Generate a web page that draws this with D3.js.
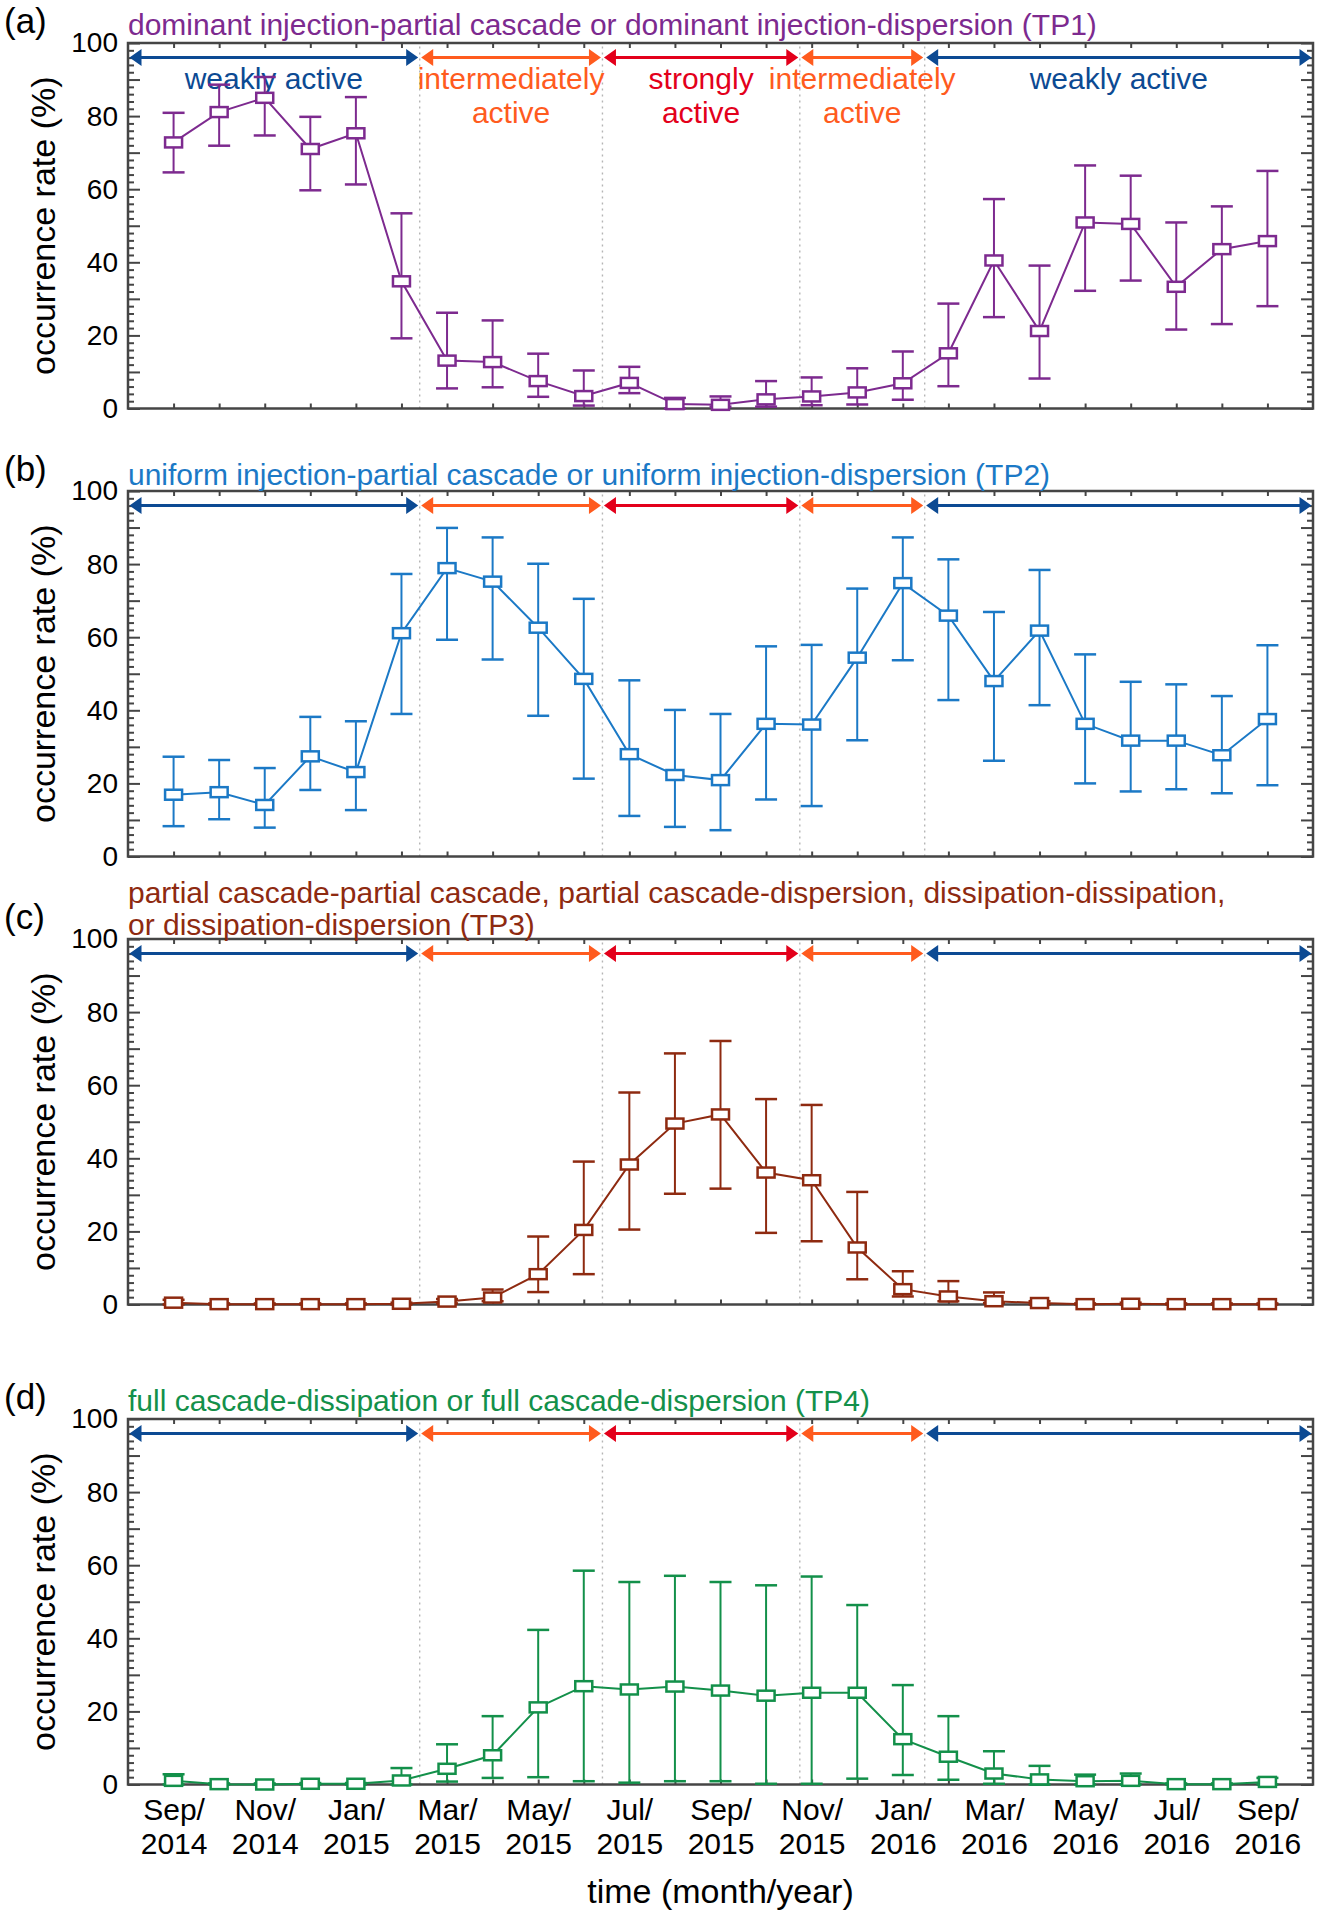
<!DOCTYPE html>
<html>
<head>
<meta charset="utf-8">
<script src="https://cdn.jsdelivr.net/npm/d3@7"></script>
<style>
    body { margin: 0; background: #fff; }
    svg { display: block; }
</style>
</head>
<body>
<script>
// month categories (x positions are the month index)
const months = ['Sep/2014', 'Oct/2014', 'Nov/2014', 'Dec/2014', 'Jan/2015', 'Feb/2015', 'Mar/2015',
    'Apr/2015', 'May/2015', 'Jun/2015', 'Jul/2015', 'Aug/2015', 'Sep/2015', 'Oct/2015', 'Nov/2015',
    'Dec/2015', 'Jan/2016', 'Feb/2016', 'Mar/2016', 'Apr/2016', 'May/2016', 'Jun/2016', 'Jul/2016',
    'Aug/2016', 'Sep/2016'];
const tickLabels = ['Sep/2014', 'Nov/2014', 'Jan/2015', 'Mar/2015', 'May/2015', 'Jul/2015', 'Sep/2015',
    'Nov/2015', 'Jan/2016', 'Mar/2016', 'May/2016', 'Jul/2016', 'Sep/2016'];
const yTicks = [0, 20, 40, 60, 80, 100];

// TP1
const tp1Rate = [72.8, 81.1, 85.0, 71.0, 75.3, 34.8, 13.1, 12.7, 7.5, 3.4, 7.0, 1.2, 1.0, 2.5, 3.3, 4.4, 6.9, 15.1, 40.5, 21.2, 50.9, 50.5, 33.3, 43.6, 45.8];
const tp1High = [80.9, 88.6, 90.7, 79.8, 85.2, 53.4, 26.2, 24.1, 15.0, 10.4, 11.4, 2.9, 3.3, 7.5, 8.5, 11.0, 15.6, 28.7, 57.3, 39.1, 66.5, 63.7, 50.9, 55.3, 65.0];
const tp1Low = [64.6, 71.9, 74.7, 59.7, 61.3, 19.2, 5.5, 5.8, 3.2, 0.8, 4.2, 0.0, 0.5, 0.5, 0.9, 1.1, 2.4, 6.1, 25.0, 8.2, 32.2, 35.0, 21.6, 23.1, 28.0];

// TP2
const tp2Rate = [16.9, 17.6, 14.1, 27.4, 23.1, 61.1, 78.9, 75.2, 62.6, 48.6, 28.0, 22.3, 20.9, 36.3, 36.1, 54.4, 74.8, 65.9, 48.0, 61.8, 36.3, 31.7, 31.7, 27.7, 37.6];
const tp2High = [27.3, 26.4, 24.2, 38.2, 37.0, 77.3, 89.9, 87.3, 80.1, 70.5, 48.2, 40.1, 39.0, 57.5, 57.9, 73.3, 87.3, 81.3, 66.9, 78.4, 55.3, 47.8, 47.1, 43.9, 57.8];
const tp2Low = [8.3, 10.2, 7.9, 18.2, 12.7, 39.0, 59.3, 53.9, 38.5, 21.3, 11.1, 8.1, 7.2, 15.6, 13.8, 31.8, 53.7, 42.8, 26.2, 41.4, 20.0, 17.8, 18.4, 17.3, 19.5];

// TP3
const tp3Rate = [0.5, 0.1, 0.1, 0.1, 0.1, 0.2, 0.8, 1.9, 8.3, 20.4, 38.3, 49.5, 52.0, 36.1, 34.0, 15.6, 4.2, 2.2, 0.9, 0.4, 0.1, 0.2, 0.1, 0.1, 0.1];
const tp3High = [1.3, 0.3, 0.3, 0.3, 0.3, 0.5, 1.5, 4.1, 18.6, 39.1, 58.0, 68.7, 72.1, 56.2, 54.6, 30.8, 9.1, 6.4, 3.3, 0.9, 0.3, 0.5, 0.3, 0.3, 0.3];
const tp3Low = [0, 0, 0, 0, 0, 0, 0.3, 0.9, 3.4, 8.3, 20.5, 30.3, 31.7, 19.6, 17.3, 6.9, 2.2, 0.9, 0.4, 0, 0, 0, 0, 0, 0];

// TP4
const tp4Rate = [1.0, 0.1, 0.0, 0.2, 0.2, 1.1, 4.3, 8.0, 21.1, 26.9, 26.0, 26.8, 25.7, 24.3, 25.1, 25.1, 12.4, 7.6, 3.0, 1.4, 0.9, 1.0, 0.1, 0.1, 0.7];
const tp4High = [2.8, 0.3, 0.3, 0.4, 0.4, 4.5, 11.0, 18.7, 42.3, 58.5, 55.4, 57.1, 55.4, 54.5, 56.9, 49.1, 27.2, 18.7, 9.1, 5.1, 2.7, 3.0, 0.3, 0.3, 1.8];
const tp4Low = [0, 0, 0, 0, 0, 0, 0.8, 1.8, 2.0, 0.9, 0.5, 0.9, 0.9, 0.2, 0.2, 1.6, 2.6, 1.3, 0.2, 0, 0, 0, 0, 0, 0];

// activity periods (edges in month-index units)
const periodEdges = [-1, 5.4, 9.41, 13.74, 16.48, 25];
const periodLabels = [['weakly active'], ['intermediately', 'active'], ['strongly', 'active'], ['intermediately', 'active'], ['weakly active']];
const periodLevels = ['weak', 'mid', 'strong', 'mid', 'weak'];

drawFigure();

function drawFigure()
{
    const width = 1322;
    const height = 1920;
    const font = "'Liberation Sans', Arial, sans-serif";

    const panelTops = [43, 491, 939, 1419];
    const panelHeight = 365.5;

    const axisColor = '#454545';
    const levelColor = { weak: '#0c4a93', mid: '#ff5b1e', strong: '#e3001b' };

    const panels = [
        { tag: '(a)', title: ['dominant injection-partial cascade or dominant injection-dispersion (TP1)'],
            color: '#7d2a8f', rate: tp1Rate, low: tp1Low, high: tp1High, labels: true },
        { tag: '(b)', title: ['uniform injection-partial cascade or uniform injection-dispersion (TP2)'],
            color: '#1b79c6', rate: tp2Rate, low: tp2Low, high: tp2High, titleGap: 6 },
        { tag: '(c)', title: ['partial cascade-partial cascade, partial cascade-dispersion, dissipation-dissipation,',
            'or dissipation-dispersion (TP3)'],
            color: '#8e2a10', rate: tp3Rate, low: tp3Low, high: tp3High, titleGap: 4 },
        { tag: '(d)', title: ['full cascade-dissipation or full cascade-dispersion (TP4)'],
            color: '#13904a', rate: tp4Rate, low: tp4Low, high: tp4High, xLabels: true }
    ];

    const svg = d3.select('body').append('svg')
        .attr('width', width)
        .attr('height', height)
        .style('font-family', font);

    svg.append('rect')
        .attr('width', width)
        .attr('height', height)
        .attr('fill', '#fff');

    // x scale over month index, one empty slot each side
    const x = d3.scaleLinear()
        .domain([-1, months.length])
        .range([128, 1313]);

    panels.forEach((p, k) => drawPanel(p, panelTops[k]));

    // x-axis title
    svg.append('text')
        .attr('x', (x.range()[0] + x.range()[1]) / 2)
        .attr('y', 1903)
        .attr('text-anchor', 'middle')
        .attr('font-size', 34)
        .attr('fill', '#000')
        .text('time (month/year)');

    function drawPanel(p, top)
    {
        const g = svg.append('g');

        const y = d3.scaleLinear()
            .domain([0, 100])
            .range([top + panelHeight, top]);

        const x0 = x.range()[0];
        const x1 = x.range()[1];

        // dotted period boundaries
        g.selectAll('line.bound')
            .data(periodEdges.slice(1, -1))
            .enter()
            .append('line')
            .attr('class', 'bound')
            .attr('x1', d => x(d))
            .attr('x2', d => x(d))
            .attr('y1', y(0))
            .attr('y2', y(100))
            .attr('stroke', '#b5b5b5')
            .attr('stroke-width', 1.4)
            .attr('stroke-dasharray', '2 4');

        // y axes (left with labels, right mirrored), ticks point inward
        const minorVals = d3.range(0, 101, 2).filter(v => v % 10 !== 0);
        const majorVals = d3.range(0, 101, 10);

        const styleAxis = a =>
        {
            a.select('.domain').remove();
            a.selectAll('line').attr('stroke', axisColor).attr('stroke-width', 2);
            a.attr('font-family', font).attr('font-size', 28);
            a.selectAll('text').attr('fill', '#000');
        };

        g.append('g')
            .attr('transform', `translate(${x0}, 0)`)
            .call(d3.axisLeft(y).tickValues(majorVals).tickSize(-12).tickPadding(10)
                .tickFormat(d => yTicks.includes(d) ? d : ''))
            .call(styleAxis);

        g.append('g')
            .attr('transform', `translate(${x0}, 0)`)
            .call(d3.axisLeft(y).tickValues(minorVals).tickSize(-6).tickFormat(''))
            .call(styleAxis);

        g.append('g')
            .attr('transform', `translate(${x1}, 0)`)
            .call(d3.axisRight(y).tickValues(majorVals).tickSize(-12).tickFormat(''))
            .call(styleAxis);

        g.append('g')
            .attr('transform', `translate(${x1}, 0)`)
            .call(d3.axisRight(y).tickValues(minorVals).tickSize(-6).tickFormat(''))
            .call(styleAxis);

        // month ticks on top and bottom
        g.append('g')
            .attr('transform', `translate(0, ${y(100)})`)
            .call(d3.axisTop(x).tickValues(d3.range(months.length)).tickSize(-5).tickFormat(''))
            .call(styleAxis);

        g.append('g')
            .attr('transform', `translate(0, ${y(0)})`)
            .call(d3.axisBottom(x).tickValues(d3.range(months.length)).tickSize(-5).tickFormat(''))
            .call(styleAxis);

        // frame
        g.append('rect')
            .attr('x', x0)
            .attr('y', y(100))
            .attr('width', x1 - x0)
            .attr('height', y(0) - y(100))
            .attr('fill', 'none')
            .attr('stroke', axisColor)
            .attr('stroke-width', 2.5);

        // period arrows
        const ay = y(96);
        const headW = 12;
        const headH = 8.5;
        const arrows = g.selectAll('g.arrow')
            .data(periodLevels.map((lv, i) => ({ lv, a: periodEdges[i], b: periodEdges[i + 1], lines: periodLabels[i] })))
            .enter()
            .append('g')
            .attr('class', 'arrow');

        arrows.append('line')
            .attr('x1', d => x(d.a) + headW - 1)
            .attr('x2', d => x(d.b) - headW + 1)
            .attr('y1', ay)
            .attr('y2', ay)
            .attr('stroke', d => levelColor[d.lv])
            .attr('stroke-width', 3);

        arrows.append('path')
            .attr('d', d =>
            {
                const xa = x(d.a) + 1.5;
                const xb = x(d.b) - 1.5;
                return `M${xa},${ay}L${xa + headW},${ay - headH}L${xa + headW},${ay + headH}Z` +
                    `M${xb},${ay}L${xb - headW},${ay - headH}L${xb - headW},${ay + headH}Z`;
            })
            .attr('fill', d => levelColor[d.lv]);

        if (p.labels)
        {
            arrows.each(function(d)
            {
                d3.select(this).selectAll('text')
                    .data(d.lines)
                    .enter()
                    .append('text')
                    .attr('x', (x(d.a) + x(d.b)) / 2)
                    .attr('y', (t, j) => y(100) + 46 + j * 33.5)
                    .attr('text-anchor', 'middle')
                    .attr('font-size', 30)
                    .attr('fill', levelColor[d.lv])
                    .text(t => t);
            });
        }

        // panel tag and title
        g.append('text')
            .attr('x', 4)
            .attr('y', top - 10)
            .attr('font-size', 35)
            .attr('fill', '#000')
            .text(p.tag);

        const gap = p.titleGap || 8;
        g.selectAll('text.title')
            .data(p.title)
            .enter()
            .append('text')
            .attr('class', 'title')
            .attr('x', x0)
            .attr('y', (t, j) => top - gap - (p.title.length - 1 - j) * 32)
            .attr('font-size', 30)
            .attr('fill', p.color)
            .text(t => t);

        // y-axis title
        g.append('text')
            .attr('transform', `translate(55, ${top + panelHeight / 2}) rotate(-90)`)
            .attr('text-anchor', 'middle')
            .attr('font-size', 34)
            .attr('fill', '#000')
            .text('occurrence rate (%)');

        // month labels under the last panel
        if (p.xLabels)
        {
            const labelIdx = tickLabels.map(t => months.indexOf(t));
            g.append('g')
                .attr('transform', `translate(0, ${y(0)})`)
                .call(d3.axisBottom(x).tickValues(labelIdx).tickSize(0).tickFormat(i => months[i]))
                .call(a =>
                {
                    a.select('.domain').remove();
                    a.attr('font-family', font).attr('font-size', 30);
                    a.selectAll('text').each(function(t)
                    {
                        const parts = months[t].split('/');
                        const el = d3.select(this).attr('y', null).attr('dy', null).attr('fill', '#000').text(null);
                        el.append('tspan').attr('x', 0).attr('y', 35).text(parts[0] + '/');
                        el.append('tspan').attr('x', 0).attr('y', 69).text(parts[1]);
                    });
                });
        }

        // series: connecting line, error bars, markers
        const line = d3.line()
            .x((d, i) => x(i))
            .y(d => y(d));

        g.append('path')
            .datum(p.rate)
            .attr('d', line)
            .attr('fill', 'none')
            .attr('stroke', p.color)
            .attr('stroke-width', 2);

        const pts = p.rate.map((v, i) => ({ i, v, lo: p.low[i], hi: p.high[i] }));
        const capW = 11;

        const bars = g.selectAll('g.err')
            .data(pts)
            .enter()
            .append('g')
            .attr('class', 'err')
            .attr('stroke', p.color);

        bars.append('line')
            .attr('x1', d => x(d.i))
            .attr('x2', d => x(d.i))
            .attr('y1', d => y(d.lo))
            .attr('y2', d => y(d.hi))
            .attr('stroke-width', 2);

        bars.selectAll('line.cap')
            .data(d => [d.lo, d.hi].map(v => ({ i: d.i, v })))
            .enter()
            .append('line')
            .attr('class', 'cap')
            .attr('x1', d => x(d.i) - capW)
            .attr('x2', d => x(d.i) + capW)
            .attr('y1', d => y(d.v))
            .attr('y2', d => y(d.v))
            .attr('stroke-width', 2.5);

        g.selectAll('rect.mark')
            .data(pts)
            .enter()
            .append('rect')
            .attr('class', 'mark')
            .attr('x', d => x(d.i) - 8.5)
            .attr('y', d => y(d.v) - 5)
            .attr('width', 17)
            .attr('height', 10)
            .attr('fill', '#fff')
            .attr('stroke', p.color)
            .attr('stroke-width', 2.5);
    }
}
</script>
</body>
</html>
